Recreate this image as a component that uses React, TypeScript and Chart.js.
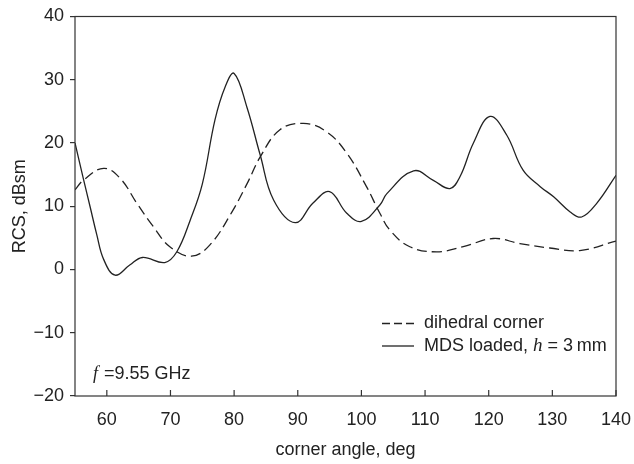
import React, { useEffect, useRef } from "react";
import { Chart, registerables } from "chart.js";

Chart.register(...registerables);

// ---- data ----
const mdsAngles = [55, 56.3, 57.4, 58.4, 59.5, 61.3, 63.6, 65.6, 69.1, 71, 73.1, 75, 77, 78.6, 80, 82, 84.1, 86.2, 89.6, 92.4, 95, 97.7, 100, 102.9, 104, 108.2, 111.3, 113.9, 115.5, 117.6, 120.2, 122.8, 125.4, 128.1, 130.2, 132.8, 134.6, 137, 140];
const mdsValues = [20, 14.4, 9.8, 5.6, 1.6, -0.9, 0.7, 1.9, 1.1, 2.8, 7.8, 13.5, 23.7, 28.9, 31, 25.7, 18.1, 11.0, 7.4, 10.5, 12.3, 8.9, 7.6, 10.2, 12.0, 15.6, 14.1, 12.8, 14.7, 20, 24.2, 21.3, 15.7, 13.1, 11.5, 9.1, 8.3, 10.5, 14.9];

const dihedralAngles = [55, 56.3, 59.5, 62.1, 64.7, 67.3, 69.9, 73.3, 76.2, 79.6, 82.2, 84.1, 87.2, 90.9, 94.5, 97.7, 100.8, 102.9, 104.5, 107.6, 111.8, 116, 120.7, 124.9, 129.6, 134.3, 140];
const dihedralValues = [12.6, 14.1, 16.0, 14.4, 10.5, 6.8, 3.6, 2.1, 3.9, 9.0, 13.9, 17.8, 22.1, 23.1, 21.8, 18.4, 13.1, 8.9, 6.2, 3.6, 2.8, 3.6, 4.9, 4.1, 3.4, 3.0, 4.5];

const xTicks = [60, 70, 80, 90, 100, 110, 120, 130, 140];
const yTicks = [-20, -10, 0, 10, 20, 30, 40];

const seriesLabels = ["dihedral corner", "MDS loaded, "];
const xTitle = "corner angle, deg";
const yTitle = "RCS, dBsm";
const noteText = "=9.55 GHz";

const SANS = "'Liberation Sans', Arial, sans-serif";
const SERIF = "'Liberation Serif', 'Times New Roman', serif";
const FS = 18;
const INK = "#222";

const decorPlugin = {
  id: "decor",
  afterDraw(chart: any) {
    const { ctx, chartArea } = chart;
    const { left, right, top, bottom } = chartArea;
    const xs = chart.scales.x;
    ctx.save();
    ctx.strokeStyle = "#333";
    ctx.lineWidth = 1.2;
    ctx.setLineDash([]);
    ctx.strokeRect(left, top, right - left, bottom - top);
    // inward x ticks
    xTicks.forEach((v) => {
      const px = xs.getPixelForValue(v);
      ctx.beginPath();
      ctx.moveTo(px, bottom);
      ctx.lineTo(px, bottom - 6);
      ctx.stroke();
    });
    // legend
    const lx0 = 382, lx1 = 414, tx = 424;
    const y1 = 323.5, y2 = 346;
    ctx.strokeStyle = INK;
    ctx.lineWidth = 1.3;
    ctx.setLineDash([8, 4]);
    ctx.beginPath();
    ctx.moveTo(lx0, y1);
    ctx.lineTo(lx1, y1);
    ctx.stroke();
    ctx.setLineDash([]);
    ctx.beginPath();
    ctx.moveTo(lx0, y2);
    ctx.lineTo(lx1, y2);
    ctx.stroke();
    ctx.fillStyle = INK;
    ctx.textBaseline = "middle";
    ctx.textAlign = "left";
    ctx.font = `${FS}px ${SANS}`;
    ctx.fillText(seriesLabels[0], tx, y1);
    ctx.fillText(seriesLabels[1], tx, y2);
    let cx = tx + ctx.measureText(seriesLabels[1]).width;
    ctx.font = `italic ${FS + 1}px ${SERIF}`;
    ctx.fillText("h", cx, y2);
    cx += ctx.measureText("h").width;
    ctx.font = `${FS}px ${SANS}`;
    ctx.fillText(" = 3\u2009mm", cx, y2);
    // frequency note
    ctx.font = `italic ${FS}px ${SERIF}`;
    ctx.fillText("f", 93, 374);
    ctx.font = `${FS}px ${SANS}`;
    ctx.fillText(noteText, 104, 374);
    ctx.restore();
  },
};

export default function App() {
  const ref = useRef<HTMLCanvasElement>(null);
  useEffect(() => {
    if (!ref.current) return;
    const chart = new Chart(ref.current, {
      type: "line",
      data: {
        datasets: [
          {
            label: "dihedral corner",
            data: dihedralAngles.map((x, i) => ({ x, y: dihedralValues[i] })),
            borderColor: INK,
            borderWidth: 1.3,
            borderDash: [10, 5],
            pointRadius: 0,
            tension: 0.4,
            fill: false,
          },
          {
            label: "MDS loaded",
            data: mdsAngles.map((x, i) => ({ x, y: mdsValues[i] })),
            borderColor: INK,
            borderWidth: 1.3,
            pointRadius: 0,
            tension: 0.4,
            fill: false,
          },
        ],
      },
      options: {
        animation: false,
        responsive: false,
        devicePixelRatio: 1,
        layout: { padding: { top: 16.5, right: 18, left: 0, bottom: 0 } },
        plugins: { legend: { display: false }, tooltip: { enabled: false } },
        scales: {
          x: {
            type: "linear",
            min: 55,
            max: 140,
            afterBuildTicks: (s: any) => {
              s.ticks = xTicks.map((v) => ({ value: v }));
            },
            afterFit: (s: any) => {
              s.height = 68;
              s.paddingLeft = 0;
              s.paddingRight = 0;
            },
            grid: { display: false, drawTicks: false, tickLength: 0 },
            border: { display: false },
            ticks: {
              color: INK,
              font: { family: SANS, size: FS },
              padding: 13,
              maxRotation: 0,
              autoSkip: false,
            },
            title: {
              display: true,
              text: xTitle,
              color: INK,
              font: { family: SANS, size: FS },
              padding: { top: 0, bottom: 3 },
            },
          },
          y: {
            type: "linear",
            min: -20,
            max: 40,
            afterBuildTicks: (s: any) => {
              s.ticks = yTicks.map((v) => ({ value: v }));
            },
            afterFit: (s: any) => {
              s.width = 75;
              s.paddingTop = 0;
              s.paddingBottom = 0;
            },
            grid: {
              display: true,
              drawOnChartArea: false,
              drawTicks: true,
              tickLength: 5,
              color: "#333",
              lineWidth: 1.2,
            },
            border: { display: false },
            ticks: {
              color: INK,
              font: { family: SANS, size: FS },
              padding: 6,
              callback: (v: any) => (Number(v) < 0 ? "\u2212" + Math.abs(Number(v)) : String(v)),
            },
            title: {
              display: true,
              text: yTitle,
              color: INK,
              font: { family: SANS, size: FS },
              padding: { top: 9, bottom: 0 },
            },
          },
        },
      } as any,
      plugins: [decorPlugin],
    });
    return () => chart.destroy();
  }, []);
  return (
    <div style={{ position: "fixed", left: 0, top: 0, width: 634, height: 464, background: "#fff" }}>
      <canvas ref={ref} width={634} height={464} />
    </div>
  );
}
